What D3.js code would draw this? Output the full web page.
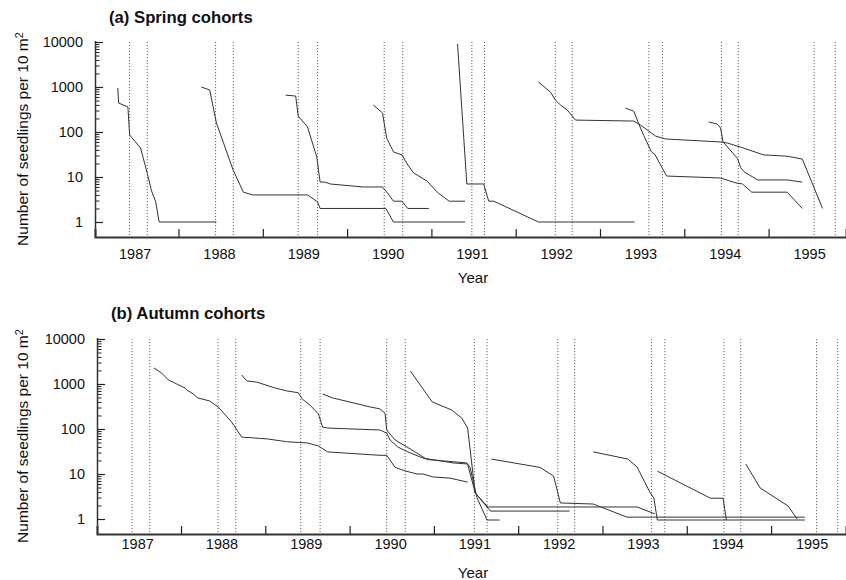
<!DOCTYPE html>
<html>
<head>
<meta charset="utf-8">
<script src="https://d3js.org/d3.v7.min.js"></script>
<style>
  body { margin: 0; background: #fff; }
  svg { display: block; font-family: "Liberation Sans", Arial, Helvetica, sans-serif; }
</style>
</head>
<body>
<div id="chart"></div>
<script>
  const W = 846, H = 580

  // census breaks (dotted verticals), decimal years
  const censusBreaks = [1986.92, 1987.13, 1987.94, 1988.15, 1988.92, 1989.15, 1989.94, 1990.16,
    1990.98, 1991.13, 1991.97, 1992.17, 1993.08, 1993.24, 1993.94, 1994.14, 1995.04, 1995.29]

  const yearLabels = [1987, 1988, 1989, 1990, 1991, 1992, 1993, 1994, 1995]
  const yearTicks = [1987.5, 1988.5, 1989.5, 1990.5, 1991.5, 1992.5, 1993.5, 1994.5]
  const countTicks = [1, 10, 100, 1000, 10000]

  // spring cohorts: [year, seedlings per 10 m2]
  const spring1986 = [[1986.78,950],[1986.79,440],[1986.90,360],[1986.92,86],[1987.05,44],[1987.13,12],
    [1987.18,4.9],[1987.23,2.8],[1987.27,1],[1987.95,1]]
  const spring1987 = [[1987.77,1000],[1987.87,860],[1987.95,158],[1988.15,14],[1988.27,4.6],[1988.38,4],
    [1989.03,4],[1989.15,2.8],[1989.18,2],[1989.96,2],[1990.05,1],[1990.90,1]]
  const spring1988 = [[1988.77,660],[1988.89,630],[1988.92,226],[1989.03,130],[1989.14,28],[1989.18,7.7],
    [1989.24,7.7],[1989.30,7],[1989.69,6],[1989.92,6],[1989.98,4.4],[1990.05,2.9],[1990.15,2.9],
    [1990.22,2],[1990.47,2]]
  const spring1989 = [[1989.81,400],[1989.92,265],[1989.97,73],[1990.05,36],[1990.15,31],[1990.22,18.5],
    [1990.29,12.3],[1990.45,8.1],[1990.57,4.6],[1990.71,2.9],[1990.90,2.9]]
  const spring1990 = [[1990.81,9100],[1990.92,7],[1991.12,7],[1991.18,2.9],[1991.24,2.9],[1991.77,1],[1992.91,1]]
  const spring1991 = [[1991.77,1290],[1991.91,780],[1991.97,515],[1992.03,400],[1992.11,310],[1992.21,184],
    [1992.90,175],[1992.98,143],[1993.16,81],[1993.28,70],[1993.93,60],[1994.01,57],[1994.17,46],
    [1994.44,31],[1994.72,29],[1994.90,25],[1995.14,2]]
  const spring1992 = [[1992.80,340],[1992.90,290],[1993.00,100],[1993.11,36],[1993.15,32],[1993.29,10.5],
    [1993.93,9.5],[1994.11,7.4],[1994.19,7],[1994.30,4.6],[1994.72,4.6],[1994.90,2]]
  const spring1993 = [[1993.79,167],[1993.89,150],[1993.93,123],[1993.96,60],[1994.13,26],[1994.17,16],
    [1994.21,13],[1994.37,8.6],[1994.72,8.6],[1994.90,7.7]]

  // autumn cohorts
  const autumn1987 = [[1987.18,2270],[1987.27,1750],[1987.35,1230],[1987.45,1000],[1987.55,810],[1987.57,730],
    [1987.63,630],[1987.70,490],[1987.84,420],[1987.94,310],[1988.10,143],[1988.22,66],[1988.38,63],
    [1988.53,60],[1988.76,52],[1988.91,50],[1989.00,49],[1989.13,42],[1989.24,31],[1989.86,26],
    [1989.94,26],[1990.04,14],[1990.16,11.7],[1990.30,10],[1990.37,10],[1990.49,8.6],[1990.69,8.1],[1990.90,6.6]]
  const autumn1988 = [[1988.22,1585],[1988.28,1170],[1988.40,1100],[1988.62,810],[1988.76,700],[1988.89,640],
    [1988.94,460],[1989.03,340],[1989.13,215],[1989.18,110],[1989.24,105],[1989.86,95],[1989.94,81],
    [1989.98,57],[1990.07,40],[1990.19,31],[1990.37,22.6],[1990.73,17.6],[1990.90,16.7],[1990.99,3.8],
    [1991.17,1.5],[1992.11,1.5]]
  const autumn1989 = [[1989.18,600],[1989.30,490],[1989.74,310],[1989.86,280],[1989.92,225],[1989.94,95],
    [1990.04,57],[1990.18,40],[1990.30,29],[1990.42,21],[1990.89,17.6],[1990.93,14],[1991.01,3],
    [1991.13,0.95],[1991.28,0.95]]
  const autumn1990 = [[1990.22,1950],[1990.48,400],[1990.71,265],[1990.83,175],[1990.90,105],[1990.99,3.8],
    [1991.14,1.85],[1992.91,1.85],[1993.12,1.3]]
  const autumn1991 = [[1991.18,21.5],[1991.76,14],[1991.92,9],[1992.00,2.27],[1992.39,2.15],[1992.79,1.1],[1994.90,1.1]]
  const autumn1992 = [[1992.39,31],[1992.80,21.5],[1992.91,14.3],[1993.06,4],[1993.11,2.9],[1993.15,0.95],[1994.90,0.95]]
  const autumn1993 = [[1993.15,11.6],[1993.78,2.9],[1993.93,2.9],[1993.97,0.95]]
  const autumn1994 = [[1994.20,16.7],[1994.37,4.9],[1994.70,1.95],[1994.81,1]]

  const springCohorts = [spring1986, spring1987, spring1988, spring1989, spring1990, spring1991, spring1992, spring1993]
  const autumnCohorts = [autumn1987, autumn1988, autumn1989, autumn1990, autumn1991, autumn1992, autumn1993, autumn1994]

  const svg = d3.select("#chart").append("svg")
    .attr("width", W).attr("height", H)
    .attr("viewBox", [0, 0, W, H])

  // minor log ticks 2..9 per decade
  const minorTicks = []
  for (let p = 0; p < 4; p++) for (let k = 2; k <= 9; k++) minorTicks.push(k * Math.pow(10, p))

  function drawPanel(cfg) {
    const g = svg.append("g")
    // one year = 84.3 px, tickPx is where 1987.5 sits
    const pxYear = 84.3
    const x = d3.scaleLinear()
      .domain([1987.5 - (cfg.tickPx - cfg.left) / pxYear, 1987.5 + (W - cfg.tickPx) / pxYear])
      .range([cfg.left, W])
    const y = d3.scaleLog()
      .domain([Math.pow(10, -1/3), 10000])
      .range([cfg.bottom, cfg.bottom - 195])

    // dotted census lines
    g.selectAll(".census")
      .data(censusBreaks)
      .enter().append("line")
        .attr("x1", d => x(d)).attr("x2", d => x(d))
        .attr("y1", y(10000)).attr("y2", cfg.bottom)
        .attr("stroke", "#555")
        .attr("stroke-width", 0.9)
        .attr("stroke-dasharray", "1.2,1.8")

    // cohort lines
    const line = d3.line().x(d => x(d[0])).y(d => y(d[1]))
    g.selectAll(".cohort")
      .data(cfg.cohorts)
      .enter().append("path")
        .attr("d", line)
        .attr("fill", "none")
        .attr("stroke", "#333")
        .attr("stroke-width", 1)

    // x axis: inward marks at mid-year, labels under each year
    const xMarks = g.append("g")
      .attr("transform", `translate(0,${cfg.bottom})`)
      .call(d3.axisBottom(x).tickValues(yearTicks).tickSize(-8).tickFormat(""))
    xMarks.select(".domain").attr("stroke", "#333").attr("stroke-width", 2)
    xMarks.selectAll(".tick line").attr("stroke", "#222").attr("stroke-width", 1.2)

    const xLabels = g.append("g")
      .attr("transform", `translate(0,${cfg.bottom})`)
      .call(d3.axisBottom(x).tickValues(yearLabels.map(d => d - 0.02)).tickSize(0)
        .tickPadding(cfg.labelPad).tickFormat(d => Math.round(d)))
    xLabels.select(".domain").remove()
    xLabels.selectAll("text").attr("font-size", "14.5px").attr("font-family", null).attr("fill", "#111")

    // y axis
    const yMinor = g.append("g")
      .attr("transform", `translate(${cfg.left},0)`)
      .call(d3.axisLeft(y).tickValues(minorTicks).tickSize(-4.5).tickFormat(""))
    yMinor.select(".domain").remove()
    yMinor.selectAll(".tick line").attr("stroke", "#222")

    const yAxis = g.append("g")
      .attr("transform", `translate(${cfg.left},0)`)
      .call(d3.axisLeft(y).tickValues(countTicks).tickSize(-8).tickPadding(12).tickFormat(d3.format("d")))
    yAxis.select(".domain").attr("stroke", "#333").attr("stroke-width", 1.5)
      .attr("d", `M0.5,${y(10000) - 1}V${cfg.bottom}`)
    yAxis.selectAll(".tick line").attr("stroke", "#222").attr("stroke-width", 1.2)
    yAxis.selectAll("text").attr("font-size", "14.5px").attr("font-family", null).attr("fill", "#111")

    // panel title
    g.append("text")
      .attr("x", cfg.left + 14).attr("y", cfg.titleY)
      .attr("font-size", "16.7px").attr("font-weight", "bold").attr("fill", "#111")
      .text(cfg.title)

    // axis titles
    g.append("text")
      .attr("x", 473).attr("y", cfg.bottom + cfg.yearDy)
      .attr("text-anchor", "middle").attr("font-size", "15px").attr("fill", "#111")
      .text("Year")

    const yl = g.append("text")
      .attr("transform", `translate(28,${cfg.bottom - 98}) rotate(-90)`)
      .attr("text-anchor", "middle").attr("font-size", "15.5px").attr("fill", "#111")
    yl.append("tspan").text("Number of seedlings per 10 m")
    yl.append("tspan").attr("dy", "-0.45em").attr("font-size", "11px").text("2")
  }

  drawPanel({ cohorts: springCohorts, title: "(a) Spring cohorts", left: 95, bottom: 237,
    tickPx: 178.5, labelPad: 12, titleY: 23, yearDy: 46 })
  drawPanel({ cohorts: autumnCohorts, title: "(b) Autumn cohorts", left: 97, bottom: 534,
    tickPx: 181, labelPad: 5, titleY: 319, yearDy: 44 })
</script>
</body>
</html>
